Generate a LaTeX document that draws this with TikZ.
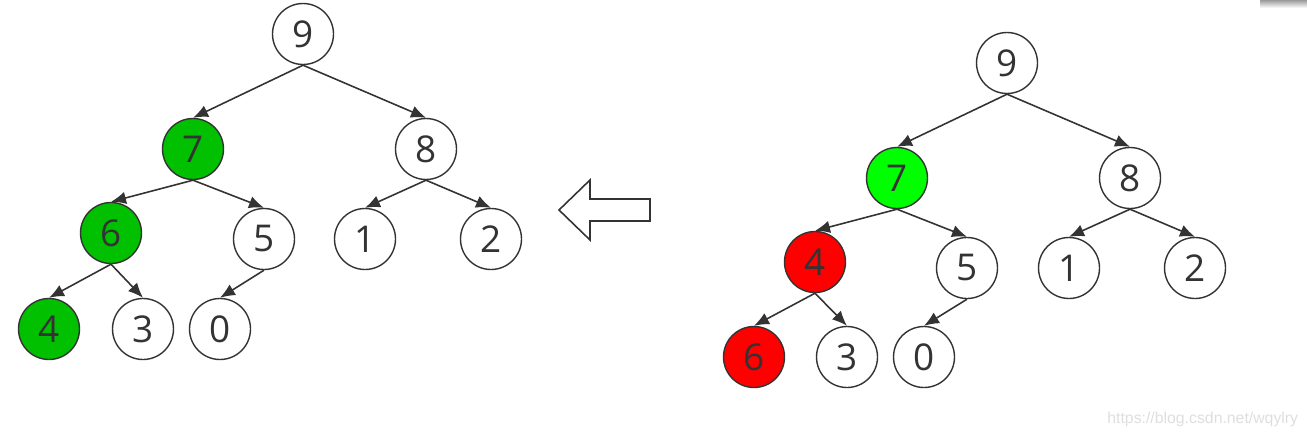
\documentclass[tikz,border=0pt]{standalone}
\usepackage{fontspec}
\setmainfont{Open Sans}
\newfontfamily\wmfont{Liberation Sans}
\usetikzlibrary{arrows.meta}
\definecolor{ink}{HTML}{333333}
\definecolor{heapgreen}{HTML}{00C000}
\definecolor{limegreen}{HTML}{00FF00}
\definecolor{swapred}{HTML}{FF0000}
\definecolor{watermark}{HTML}{DEDEDE}
\definecolor{shadow}{HTML}{9A9A9A}

\begin{document}
\begin{tikzpicture}[
  x=0.2mm,y=-0.2mm,
  heapnode/.style={circle,draw=ink,line width=0.8pt,fill=white,text=ink,
    minimum size=12.2mm,inner sep=0pt,font=\fontsize{21}{24}\selectfont},
  done/.style={heapnode,fill=heapgreen},
  checked/.style={heapnode,fill=limegreen},
  swapped/.style={heapnode,fill=swapred},
  edge/.style={-{Latex[length=3mm,width=2.5mm]},draw=ink,line width=0.9pt},
  hollow/.style={draw=ink,line width=0.9pt,fill=white,line join=miter}
]
\useasboundingbox (0,0) rectangle (1307,435);

% Left heap (after sift-down)
\node[heapnode] (a9) at (303,34) {9};
\node[done]     (a7) at (193,149) {7};
\node[heapnode] (a8) at (426,149) {8};
\node[done]     (a6) at (111,233) {6};
\node[heapnode] (a5) at (264,239) {5};
\node[heapnode] (a1) at (365,239) {1};
\node[heapnode] (a2) at (491,239) {2};
\node[done]     (a4) at (49,329) {4};
\node[heapnode] (a3) at (143,329) {3};
\node[heapnode] (a0) at (220,329) {0};

% Right heap (before sift-down)
\node[heapnode] (b9) at (1007,63) {9};
\node[checked]  (b7) at (897,178) {7};
\node[heapnode] (b8) at (1130,178) {8};
\node[swapped]  (b4) at (815,262) {4};
\node[heapnode] (b5) at (967,268) {5};
\node[heapnode] (b1) at (1069,268) {1};
\node[heapnode] (b2) at (1195,268) {2};
\node[swapped]  (b6) at (754,357) {6};
\node[heapnode] (b3) at (847,357) {3};
\node[heapnode] (b0) at (924,357) {0};

% Edges
\foreach \p/\c in {a9/a7,a9/a8,a7/a6,a7/a5,a8/a1,a8/a2,a6/a4,a6/a3,a5/a0,
                   b9/b7,b9/b8,b7/b4,b7/b5,b8/b1,b8/b2,b4/b6,b4/b3,b5/b0}
  \draw[edge] (\p.south) -- (\c.north);

% Hollow arrow between the heaps
\coordinate (tip) at (559,210);
\draw[hollow] (650,199) -- (590,199) -- (590,180) -- (tip)
  -- (590,240) -- (590,221) -- (650,221) -- cycle;

% Watermark and corner shadow
\node[anchor=base west,inner sep=0pt,text=watermark,font=\wmfont\fontsize{9}{10}\selectfont]
  (wm) at (1107,423) {https://blog.csdn.net/wqylry};
\shade[top color=shadow,bottom color=white] (1260,0) rectangle (1307,8);
\end{tikzpicture}
\end{document}
